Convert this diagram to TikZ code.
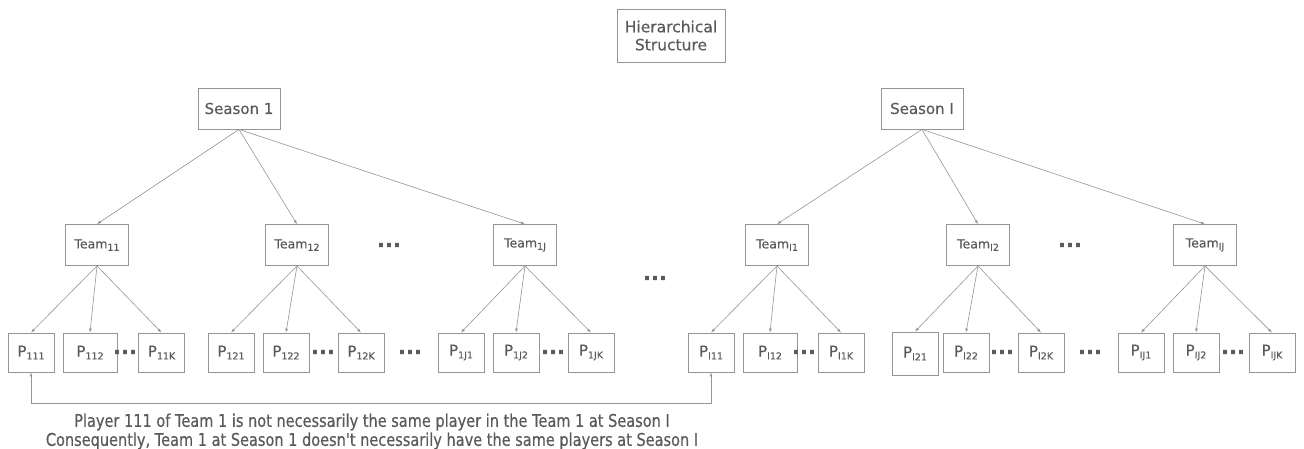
\documentclass[tikz,border=0pt]{standalone}
\usepackage{fontspec}
\setmainfont{DejaVu Sans}[FakeBold=0.5]
\newfontfamily\condfont{DejaVu Sans}[FakeStretch=0.83,FakeBold=0.5]
\usetikzlibrary{arrows.meta}
\definecolor{txt}{HTML}{5A5A5A}
\definecolor{ln}{HTML}{959595}
\newcommand\sbs[1]{\raisebox{-0.35ex}{\fontsize{9.5}{10}\selectfont #1}}
\tikzset{
  box/.style={draw=ln, line width=0.8pt, text=txt, inner sep=0pt, align=center},
  seasonbox/.style={box, minimum width=82pt, minimum height=41pt, font=\fontsize{15}{17}\selectfont},
  teambox/.style={box, minimum width=63pt, minimum height=41pt, font=\fontsize{12.5}{14}\selectfont},
  pbox/.style={box, minimum width=46pt, minimum height=39pt, font=\fontsize{15}{17}\selectfont},
  dotsnode/.style={text=txt, font=\fontsize{21}{21}\bfseries\selectfont, inner sep=0pt},
  conn/.style={draw=ln, line width=0.6pt, -{Latex[length=4pt,width=3pt]}},
  note/.style={text=txt, font=\condfont\fontsize{17.5}{19}\selectfont, inner sep=0pt}
}
\begin{document}
\begin{tikzpicture}[x=1pt,y=-1pt]
\path[use as bounding box] (0,0) rectangle (1304,448);
\node[box, minimum width=108pt, minimum height=53pt, font=\fontsize{15.5}{18}\selectfont] (hs) at (671,35.5) {Hierarchical\\Structure};
\node[seasonbox] (s1) at (239,108.5) {Season 1};
\node[seasonbox] (sI) at (922,108.5) {Season I};
% teams
\node[teambox] (t11) at (97,245) {Team\sbs{11}};
\node[teambox] (t12) at (297,245) {Team\sbs{12}};
\node[teambox] (t1J) at (525,245) {Team\sbs{1J}};
\node[teambox] (tI1) at (777,245) {Team\sbs{I1}};
\node[teambox] (tI2) at (978,245) {Team\sbs{I2}};
\node[teambox] (tIJ) at (1205,245) {Team\sbs{IJ}};
% players
\node[pbox] (p111) at (31,352.5) {P\sbs{111}};
\node[pbox, minimum width=54pt] (p112) at (90,352.5) {P\sbs{112}};
\node[pbox] (p11K) at (161.5,352.5) {P\sbs{11K}};
\node[pbox] (p121) at (231,352.5) {P\sbs{121}};
\node[pbox] (p122) at (286,352.5) {P\sbs{122}};
\node[pbox] (p12K) at (361,352.5) {P\sbs{12K}};
\node[pbox] (p1J1) at (461,352.5) {P\sbs{1J1}};
\node[pbox] (p1J2) at (516,352.5) {P\sbs{1J2}};
\node[pbox] (p1JK) at (591,352.5) {P\sbs{1JK}};
\node[pbox] (pI11) at (711,352.5) {P\sbs{I11}};
\node[pbox, minimum width=54pt] (pI12) at (770,352.5) {P\sbs{I12}};
\node[pbox] (pI1K) at (841,352.5) {P\sbs{I1K}};
\node[pbox, minimum height=43pt] (pI21) at (915,353.5) {P\sbs{I21}};
\node[pbox] (pI22) at (966,352.5) {P\sbs{I22}};
\node[pbox] (pI2K) at (1041,352.5) {P\sbs{I2K}};
\node[pbox] (pIJ1) at (1141,352.5) {P\sbs{IJ1}};
\node[pbox] (pIJ2) at (1196,352.5) {P\sbs{IJ2}};
\node[pbox] (pIJK) at (1272,352.5) {P\sbs{IJK}};
% dots
\node[dotsnode] (d1) at (125,352) {...};
\node[dotsnode] (d2) at (323,352) {...};
\node[dotsnode] (d3) at (410,352) {...};
\node[dotsnode] (d4) at (553,352) {...};
\node[dotsnode] (d5) at (804,352) {...};
\node[dotsnode] (d6) at (1002,352) {...};
\node[dotsnode] (d7) at (1090,352) {...};
\node[dotsnode] (d8) at (1233,352) {...};
\node[dotsnode] (d9) at (389,245) {...};
\node[dotsnode] (d10) at (1070,245) {...};
\node[dotsnode] (d11) at (655,278) {...};
% season to team arrows
\foreach \t in {t11,t12,t1J} \draw[conn] (s1.south) -- (\t.north);
\foreach \t in {tI1,tI2,tIJ} \draw[conn] (sI.south) -- (\t.north);
% team to player arrows
\foreach \t/\a/\b/\c in {t11/p111/p112/p11K, t12/p121/p122/p12K, t1J/p1J1/p1J2/p1JK, tI1/pI11/pI12/pI1K, tI2/pI21/pI22/pI2K, tIJ/pIJ1/pIJ2/pIJK}{
  \draw[conn] (\t.south) -- (\a.north);
  \draw[conn] (\t.south) -- (\b.north);
  \draw[conn] (\t.south) -- (\c.north);
}
% bottom connector
\draw[draw=ln, line width=0.6pt, {Latex[length=4pt,width=3pt]}-{Latex[length=4pt,width=3pt]}] (p111.south) -- ++(0,31) -| (pI11.south);
\node[note] (n1) at (372,422) {Player 111 of Team 1 is not necessarily the same player in the Team 1 at Season I};
\node[note] (n2) at (372,441) {Consequently, Team 1 at Season 1 doesn't necessarily have the same players at Season I};
\end{tikzpicture}
\end{document}
